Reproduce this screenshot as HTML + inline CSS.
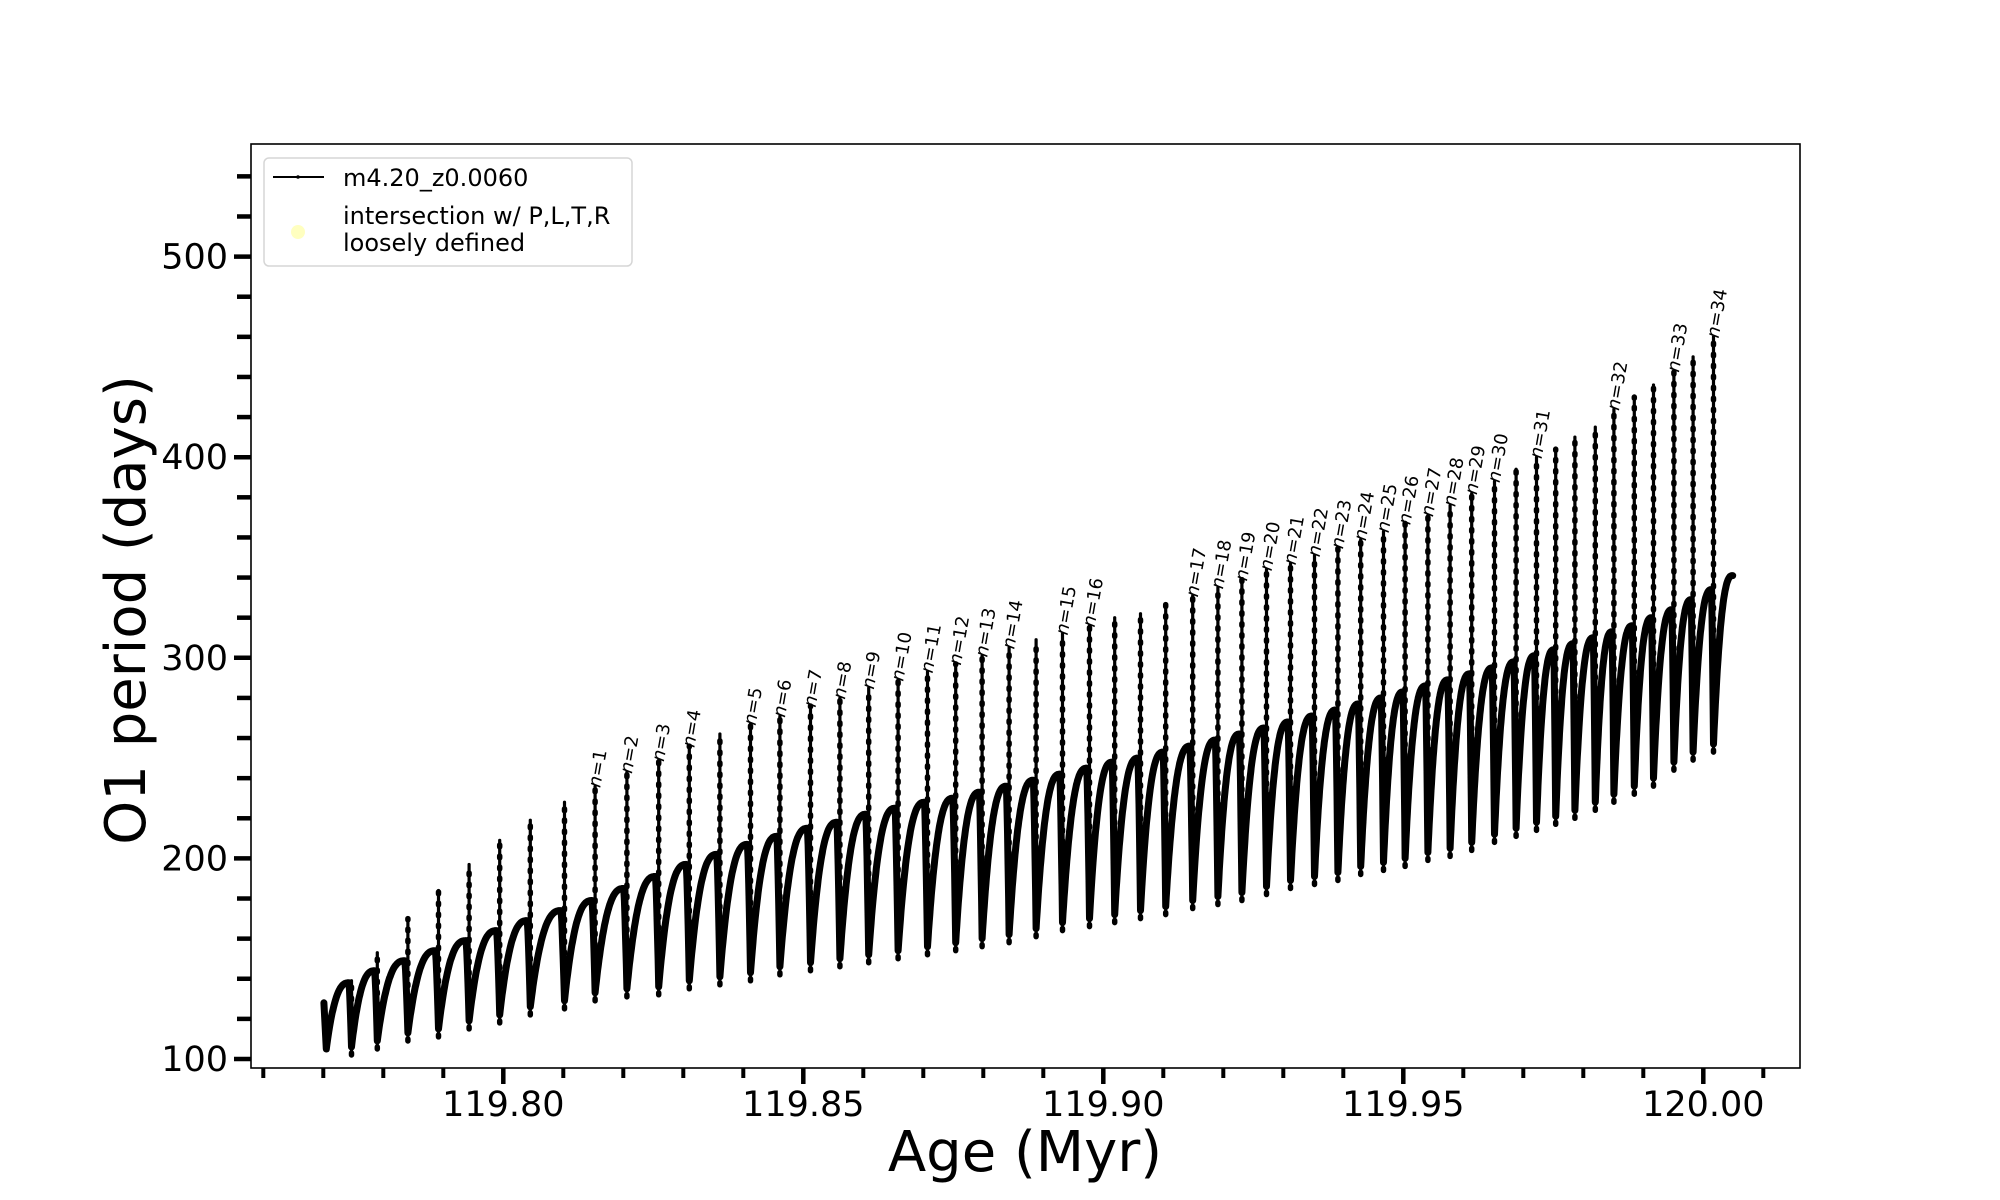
<!DOCTYPE html>
<html><head><meta charset="utf-8"><style>
html,body{margin:0;padding:0;background:#fff;}
svg{display:block;font-family:"DejaVu Sans","Liberation Sans",sans-serif;}
</style></head><body>
<svg id="chart" width="2000" height="1200" viewBox="0 0 2000 1200" xmlns="http://www.w3.org/2000/svg">
<rect x="0" y="0" width="2000" height="1200" fill="#fff"/>
<g id="marks"></g>
<g id="axes"></g>
<rect x="251" y="144" width="1549" height="924" fill="none" stroke="#000" stroke-width="1.6"/>
<g>
<rect x="264" y="158" width="368" height="108" rx="5" fill="#fff" fill-opacity="0.85" stroke="#d6d6d6" stroke-width="1.5"/>
<line x1="273" y1="177" x2="324" y2="177" stroke="#000" stroke-width="2"/>
<circle cx="298" cy="177" r="1.8" fill="#000"/>
<text x="343" y="186" font-size="24">m4.20_z0.0060</text>
<circle cx="298" cy="232" r="7" fill="#ffffc0"/>
<text x="343" y="224" font-size="24">intersection w/ P,L,T,R</text>
<text x="343" y="251" font-size="24">loosely defined</text>
</g>
<text x="1025" y="1171" font-size="56" text-anchor="middle">Age (Myr)</text>
<text transform="translate(145,610) rotate(-90)" font-size="56" text-anchor="middle">O1 period (days)</text>
</svg>
<script>
const spikeAges=[119.7747,119.7790,119.7841,119.7892,119.7943,119.7994,119.8045,119.8102,119.8153,119.8206,119.8259,119.8310,119.8361,119.8412,119.8461,119.8512,119.8561,119.8609,119.8658,119.8707,119.8754,119.8798,119.8843,119.8888,119.8932,119.8977,119.9019,119.9062,119.9104,119.9149,119.9191,119.9231,119.9272,119.9312,119.9352,119.9391,119.9429,119.9467,119.9503,119.9541,119.9578,119.9614,119.9652,119.9688,119.9722,119.9754,119.9786,119.9820,119.9851,119.9885,119.9917,119.9951,119.9983,120.0017];
const spikeTops=[139,153,170,184,197,209,219,228,236,243,249,256,262,267,271,276,280,285,289,293,297,301,305,309,312,316,320,322,327,331,335,339,344,347,351,355,359,363,367,371,376,382,388,394,400,404,410,415,424,430,436,443,450,460];
const dipMins=[106,109,113,115,119,122,126,129,133,135,136,139,141,143,146,148,150,152,154,156,158,160,162,165,168,170,172,174,176,179,181,183,186,189,191,193,196,198,200,203,205,208,212,215,218,221,224,228,232,236,240,248,253,257];
const plateaus=[138,144,149,154,159,164,169,174,179,185,191,197,202,207,211,215,218,222,225,228,230,233,236,239,242,245,248,250,253,256,259,262,265,268,271,274,277,280,283,286,289,292,295,298,301,304,307,310,313,316,320,324,329,334];
const startAge=119.7701, startVal=128, startMin=105;
const endAge=120.0049, endVal=341;
const labelSpikeIdx=[8,9,10,11,13,14,15,16,17,18,19,20,21,22,24,25,29,30,31,32,33,34,35,36,37,38,39,40,41,42,44,48,51,53];
const xTickLabels=["119.80","119.85","119.90","119.95","120.00"];
const yTickLabels=["100","200","300","400","500"];

const NS="http://www.w3.org/2000/svg";
const X=a=>503.3+(a-119.80)*6000;
const Y=v=>1059-(v-100)*2.006;
const marks=document.getElementById('marks');
const axes=document.getElementById('axes');
function mk(tag,attrs,parent){const e=document.createElementNS(NS,tag);for(const k in attrs)e.setAttribute(k,attrs[k]);parent.appendChild(e);return e;}

let pts=[[X(startAge),Y(startVal)]];
function seg(t0,b0,t1,p,b1){
  const N=50, R=0.9;
  for(let k=1;k<=N;k++){
    const s=k/N;let v;
    if(s<=R){const u=s/R;v=b0+(p-b0)*(1-Math.pow(1-u,2.6));}
    else{const w=(s-R)/(1-R);v=p-(p-b1)*Math.pow(w,1.3);}
    pts.push([X(t0+(t1-t0)*s),Y(v)]);
  }
}
const t0=startAge+0.0004;
pts.push([X(t0),Y(startMin)]);
seg(t0,startMin,spikeAges[0],plateaus[0],dipMins[0]);
for(let i=0;i<spikeAges.length-1;i++){
  seg(spikeAges[i],dipMins[i],spikeAges[i+1],plateaus[i+1],dipMins[i+1]);
}
{const tA=spikeAges[spikeAges.length-1],b=dipMins[dipMins.length-1];const N=30;
 for(let k=1;k<=N;k++){const s=k/N;pts.push([X(tA+(endAge-tA)*s),Y(b+(endVal-b)*(1-Math.pow(1-s,2.6)))]);}}
const curve=mk('path',{d:'M'+pts.map(p=>p[0].toFixed(1)+','+p[1].toFixed(1)).join('L'),fill:'none',stroke:'#000','stroke-width':7,'stroke-linejoin':'round','stroke-linecap':'round'},marks);



for(let i=0;i<spikeAges.length;i++){
  const x=X(spikeAges[i]);
  const ln=mk('line',{x1:x,x2:x,y1:Y(dipMins[i]-4),y2:Y(spikeTops[i]),stroke:'#000','stroke-width':3.2,'stroke-linecap':'round'},marks);
  
  
  const dots=mk('line',{x1:x,x2:x,y1:Y(dipMins[i]-4),y2:Y(spikeTops[i]),stroke:'#000','stroke-width':5.5,'stroke-dasharray':'2 9','stroke-linecap':'round'},marks);
  
  
}
for(let n=0;n<labelSpikeIdx.length;n++){
  const i=labelSpikeIdx[n];
  const x=X(spikeAges[i])+5, y=Y(spikeTops[i])+2;
  const t=mk('text',{transform:`translate(${x.toFixed(1)},${y.toFixed(1)}) rotate(-80)`,'font-size':18},marks);
  
  
  t.innerHTML='<tspan font-style="italic">n</tspan>='+(n+1);
}

for(let k=0;k<=25;k++){
  const a=119.76+k*0.01;const x=X(a);if(x<251||x>1800)continue;
  const major=Math.abs(Math.round(a*100)%5)===0;
  const tk=mk('line',{x1:x,x2:x,y1:1068,y2:1068+(major?16:10),stroke:'#000','stroke-width':major?4.5:4},axes);
  
  
}
xTickLabels.forEach(l=>{
  const t=mk('text',{x:X(parseFloat(l)),y:1116,'font-size':35,'text-anchor':'middle'},axes);
  t.textContent=l;
  
  
});
for(let v=100;v<=540;v+=20){
  const y=Y(v);const major=v%100===0;
  const tk=mk('line',{x1:major?234:237,x2:251,y1:y,y2:y,stroke:'#000','stroke-width':4.5},axes);
  
  
}
yTickLabels.forEach(l=>{
  const t=mk('text',{x:228,y:Y(parseFloat(l))+12,'font-size':35,'text-anchor':'end'},axes);
  t.textContent=l;
  
  
});
</script>
</body></html>
